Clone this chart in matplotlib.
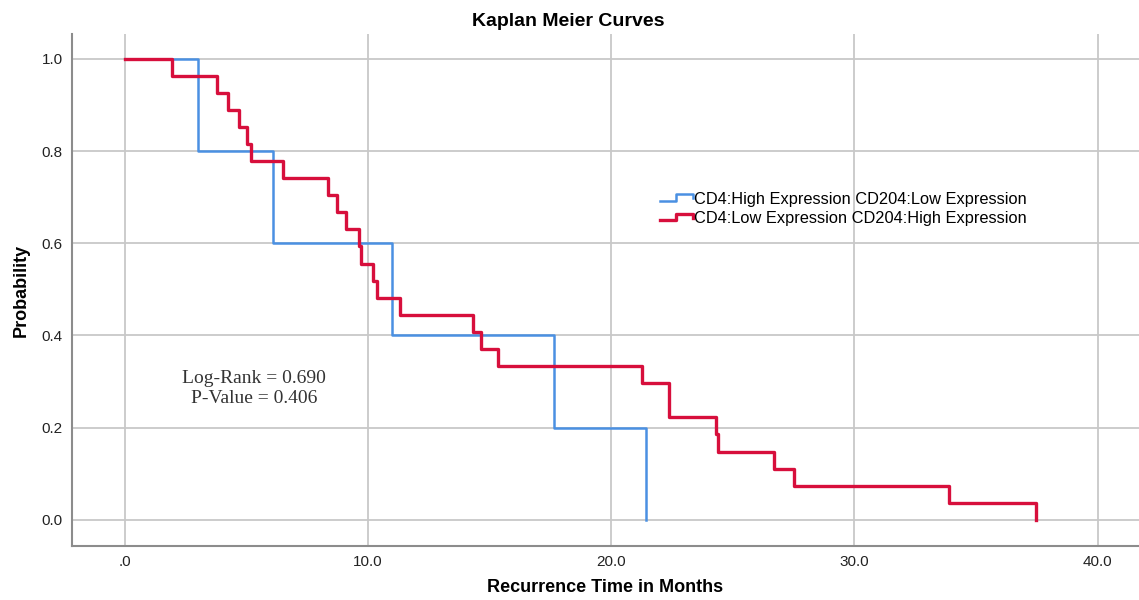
import numpy as np
import matplotlib.pyplot as plt
from matplotlib.lines import Line2D
from matplotlib.legend_handler import HandlerLine2D

# Kaplan-Meier steps (time in months, survival after the step)
high_t = [0, 3.0, 6.1, 11.0, 17.65, 21.44]
high_s = [1.0, 0.8, 0.6, 0.4, 0.2, 0.0]

low_t = [0, 1.95, 3.8, 4.25, 4.7, 5.0, 5.18, 6.49, 8.34, 8.7, 9.08, 9.64, 9.71,
         10.19, 10.35, 11.32, 14.33, 14.65, 15.36, 21.26, 22.36, 24.3, 24.37,
         26.68, 27.5, 33.88, 37.45]
low_s = [1.0, 0.963, 0.926, 0.889, 0.852, 0.815, 0.778, 0.741, 0.704, 0.667,
         0.630, 0.593, 0.556, 0.519, 0.481, 0.444, 0.407, 0.370, 0.333, 0.296,
         0.222, 0.185, 0.148, 0.111, 0.074, 0.037, 0.0]

labels = ['CD4:High Expression CD204:Low Expression',
          'CD4:Low Expression CD204:High Expression']
xticks = [0, 10, 20, 30, 40]
xticklabels = ['.0', '10.0', '20.0', '30.0', '40.0']
yticks = [0.0, 0.2, 0.4, 0.6, 0.8, 1.0]

blue = '#4a90e2'
red = '#d70f3c'


class StepHandler(HandlerLine2D):
    # little step glyph like the SPSS legend
    def create_artists(self, legend, orig_handle, xdescent, ydescent,
                       width, height, fontsize, trans):
        xs = np.array([0, 0.5, 0.5, 1.0, 1.0]) * width - xdescent
        ys = np.array([0.2, 0.2, 0.8, 0.8, 0.45]) * height - ydescent
        ln = Line2D(xs, ys, color=orig_handle.get_color(),
                    lw=orig_handle.get_linewidth())
        ln.set_transform(trans)
        return [ln]


plt.rcParams['font.family'] = ['Liberation Sans', 'DejaVu Sans']

fig = plt.figure(figsize=(11.39, 6.0), dpi=100)
ax = fig.add_axes([0.0632, 0.09, 0.9368, 0.8533])

l1, = ax.step(high_t, high_s, where='post', color=blue, lw=1.8)
l2, = ax.step(low_t, low_s, where='post', color=red, lw=2.4)

ax.set_xlim(-2.18, 41.7)
ax.set_ylim(-0.057, 1.054)
ax.set_xticks(xticks)
ax.set_xticklabels(xticklabels)
ax.set_yticks(yticks)
ax.set_yticklabels([f'{v:.1f}' for v in yticks])
ax.tick_params(length=0, labelsize=11, colors='#222222', pad=6.5)

ax.grid(True, color='#c8c8c8', lw=1.3)
ax.set_axisbelow(True)
for side in ['top', 'right']:
    ax.spines[side].set_visible(False)
for side in ['left', 'bottom']:
    ax.spines[side].set_color('#8c8c8c')
    ax.spines[side].set_linewidth(1.5)

ax.set_xlabel('Recurrence Time in Months', fontsize=13, fontweight='bold', labelpad=7)
ax.set_ylabel('Probability', fontsize=13, fontweight='bold', labelpad=9)
fig.text(0.499, 0.965, 'Kaplan Meier Curves', ha='center', va='center',
         fontsize=14, fontweight='bold')

ax.text(5.3, 0.285, 'Log-Rank = 0.690\nP-Value = 0.406', ha='center', va='center',
        fontsize=14, family='Liberation Serif', color='#333333', linespacing=1.25)

ax.legend([l1, l2], labels, loc='upper left', bbox_to_anchor=(0.545, 0.705),
          frameon=False, fontsize=11.8, handlelength=2.0, handletextpad=0.1,
          labelspacing=0.25, borderaxespad=0,
          handler_map={Line2D: StepHandler()})

fig.savefig('out.png', dpi=100)
